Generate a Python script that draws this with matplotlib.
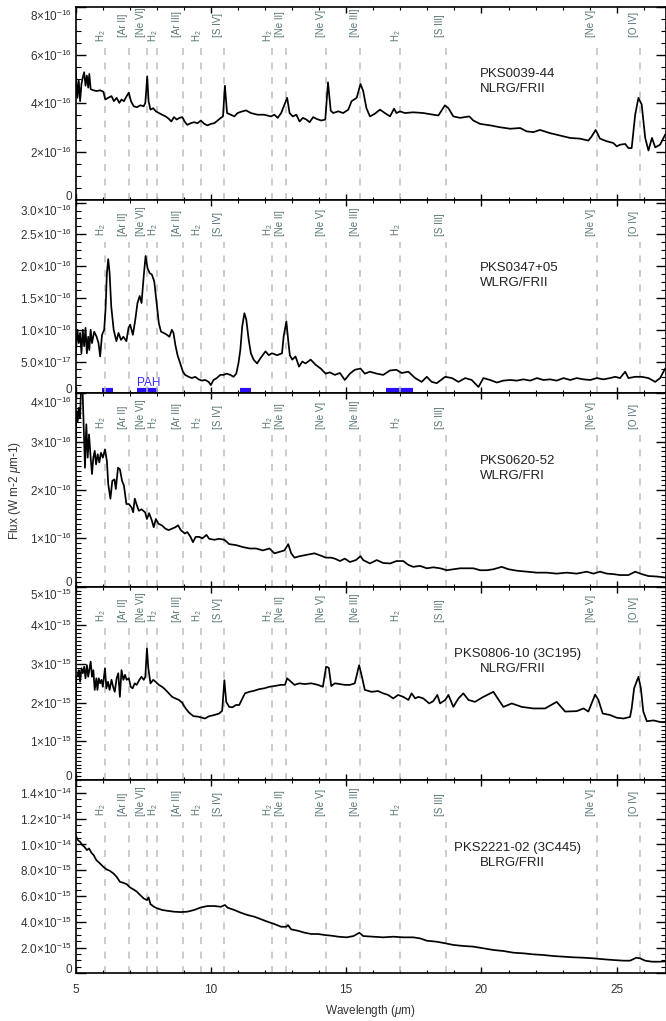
import numpy as np
import matplotlib
matplotlib.use('Agg')
import matplotlib.pyplot as plt
import matplotlib.transforms as mtransforms
from matplotlib.ticker import FixedLocator, MultipleLocator

plt.rcParams['font.family'] = ['Liberation Sans', 'DejaVu Sans']
plt.rcParams['mathtext.fontset'] = 'custom'
plt.rcParams['mathtext.rm'] = 'Liberation Sans'
plt.rcParams['mathtext.it'] = 'Liberation Sans:italic'
plt.rcParams['mathtext.bf'] = 'Liberation Sans:bold'

# spectra: (wavelength um, flux in units of the panel scale)
spec_0039 = [  # x1e-16
    (5.00, 5.50), (5.07, 4.23), (5.12, 4.94), (5.17, 4.09), (5.22, 4.80), (5.27, 5.08), (5.32, 5.29),
    (5.37, 4.73), (5.42, 5.15), (5.47, 4.65), (5.51, 5.22), (5.56, 4.59), (5.66, 4.54), (5.78, 4.51),
    (5.91, 4.54), (6.03, 4.48), (6.10, 4.16), (6.21, 4.23), (6.33, 4.30), (6.42, 4.09), (6.52, 4.23),
    (6.62, 4.02), (6.70, 4.16), (6.79, 4.09), (6.89, 4.30), (6.97, 4.44), (7.05, 4.09), (7.15, 3.88),
    (7.27, 3.84), (7.40, 3.92), (7.52, 3.88), (7.58, 4.02), (7.65, 5.12), (7.70, 4.09), (7.77, 3.74),
    (7.87, 3.80), (7.97, 3.67), (8.08, 3.60), (8.20, 3.53), (8.33, 3.46), (8.45, 3.36), (8.54, 3.25),
    (8.64, 3.43), (8.74, 3.33), (8.84, 3.40), (8.95, 3.43), (9.03, 3.25), (9.13, 3.11), (9.26, 3.18),
    (9.38, 3.22), (9.51, 3.18), (9.63, 3.29), (9.76, 3.15), (9.88, 3.09), (10.00, 3.15), (10.13, 3.18),
    (10.25, 3.29), (10.37, 3.40), (10.45, 3.46), (10.52, 4.73), (10.60, 3.60), (10.74, 3.53), (10.87, 3.46),
    (10.99, 3.60), (11.11, 3.65), (11.30, 3.71), (11.48, 3.60), (11.73, 3.53), (11.97, 3.53), (12.22, 3.46),
    (12.35, 3.53), (12.47, 3.40), (12.60, 3.60), (12.72, 3.95), (12.82, 4.23), (12.91, 3.60), (13.03, 3.46),
    (13.16, 3.53), (13.28, 3.25), (13.40, 3.40), (13.53, 3.33), (13.65, 3.22), (13.78, 3.43), (13.90, 3.36),
    (14.08, 3.29), (14.23, 3.33), (14.33, 4.87), (14.43, 3.70), (14.52, 3.60), (14.71, 3.67), (14.89, 3.60),
    (15.08, 3.74), (15.20, 4.09), (15.39, 4.23), (15.53, 4.80), (15.63, 4.51), (15.75, 3.80), (15.88, 3.46),
    (16.06, 3.57), (16.25, 3.74), (16.43, 3.60), (16.62, 3.46), (16.77, 3.78), (16.86, 3.60), (16.99, 3.67),
    (17.17, 3.60), (17.48, 3.63), (17.85, 3.60), (18.22, 3.53), (18.41, 3.50), (18.65, 3.92), (18.78, 3.80),
    (18.96, 3.46), (19.21, 3.40), (19.55, 3.46), (19.70, 3.29), (19.95, 3.15), (20.32, 3.09), (20.69, 3.01),
    (21.06, 2.95), (21.43, 2.98), (21.67, 2.84), (21.92, 2.81), (22.16, 2.90), (22.53, 2.77), (22.90, 2.67),
    (23.27, 2.57), (23.64, 2.54), (23.95, 2.46), (24.07, 2.63), (24.22, 2.90), (24.38, 2.54), (24.63, 2.43),
    (24.87, 2.36), (25.00, 2.22), (25.12, 2.29), (25.31, 2.32), (25.43, 2.15), (25.55, 2.15), (25.68, 3.53),
    (25.80, 4.23), (25.92, 3.95), (26.05, 2.57), (26.17, 2.05), (26.30, 2.57), (26.42, 2.18), (26.60, 2.29),
    (26.79, 2.71),
]

spec_0347 = [  # x1e-16
    (5.00, 0.58), (5.07, 1.00), (5.12, 0.79), (5.17, 0.95), (5.22, 0.63), (5.27, 1.00), (5.32, 0.74),
    (5.37, 1.03), (5.42, 0.63), (5.47, 0.89), (5.51, 0.68), (5.56, 1.00), (5.61, 0.79), (5.69, 0.97),
    (5.78, 0.89), (5.85, 0.79), (5.91, 0.58), (5.98, 0.92), (6.06, 1.00), (6.11, 1.32), (6.16, 1.89),
    (6.21, 2.11), (6.26, 1.89), (6.32, 1.37), (6.41, 1.00), (6.51, 0.82), (6.59, 0.95), (6.68, 0.84),
    (6.77, 0.89), (6.88, 0.82), (6.96, 1.03), (7.02, 1.08), (7.12, 0.92), (7.21, 1.16), (7.29, 1.42),
    (7.37, 1.53), (7.44, 1.42), (7.52, 1.84), (7.59, 2.16), (7.66, 1.97), (7.74, 1.89), (7.82, 1.87),
    (7.91, 1.76), (8.01, 1.37), (8.08, 1.10), (8.16, 0.97), (8.26, 0.95), (8.38, 0.92), (8.47, 0.89),
    (8.56, 1.00), (8.62, 0.95), (8.69, 0.76), (8.77, 0.60), (8.87, 0.47), (8.97, 0.34), (9.05, 0.29),
    (9.18, 0.26), (9.30, 0.24), (9.42, 0.26), (9.55, 0.22), (9.67, 0.20), (9.79, 0.21), (9.92, 0.18),
    (10.00, 0.13), (10.10, 0.21), (10.22, 0.24), (10.35, 0.29), (10.47, 0.29), (10.59, 0.31), (10.72, 0.29),
    (10.84, 0.26), (10.94, 0.31), (11.02, 0.47), (11.09, 0.68), (11.16, 1.05), (11.24, 1.26), (11.31, 1.16),
    (11.40, 0.84), (11.48, 0.63), (11.58, 0.53), (11.71, 0.47), (11.83, 0.55), (12.02, 0.66), (12.14, 0.60),
    (12.26, 0.63), (12.45, 0.60), (12.63, 0.63), (12.69, 0.89), (12.79, 1.13), (12.87, 0.79), (12.92, 0.60),
    (13.01, 0.53), (13.13, 0.58), (13.26, 0.42), (13.38, 0.50), (13.50, 0.47), (13.69, 0.53), (13.87, 0.45),
    (14.06, 0.39), (14.24, 0.31), (14.40, 0.33), (14.58, 0.29), (14.77, 0.32), (14.95, 0.21), (15.14, 0.31),
    (15.32, 0.37), (15.53, 0.39), (15.69, 0.31), (15.88, 0.34), (16.13, 0.31), (16.37, 0.29), (16.62, 0.36),
    (16.86, 0.37), (17.05, 0.32), (17.30, 0.34), (17.55, 0.24), (17.79, 0.18), (17.98, 0.26), (18.16, 0.18),
    (18.35, 0.16), (18.66, 0.26), (18.91, 0.24), (19.15, 0.18), (19.40, 0.24), (19.64, 0.21), (19.89, 0.10),
    (20.07, 0.24), (20.32, 0.21), (20.57, 0.17), (20.81, 0.20), (21.06, 0.21), (21.31, 0.20), (21.55, 0.22),
    (21.80, 0.20), (22.05, 0.24), (22.29, 0.21), (22.54, 0.22), (22.78, 0.20), (23.03, 0.24), (23.28, 0.21),
    (23.52, 0.24), (23.77, 0.22), (24.02, 0.21), (24.26, 0.24), (24.51, 0.22), (24.75, 0.24), (24.94, 0.26),
    (25.12, 0.24), (25.31, 0.34), (25.43, 0.24), (25.68, 0.26), (25.92, 0.26), (26.17, 0.24), (26.42, 0.18),
    (26.60, 0.24), (26.79, 0.39),
]

spec_0620 = [  # x1e-16
    (5.00, 2.94), (5.04, 3.63), (5.08, 3.42), (5.12, 3.70), (5.17, 3.49), (5.22, 4.40), (5.26, 4.10),
    (5.30, 3.36), (5.35, 2.46), (5.40, 3.36), (5.45, 2.67), (5.50, 3.15), (5.56, 2.67), (5.61, 2.33),
    (5.66, 2.67), (5.71, 2.81), (5.76, 2.53), (5.82, 2.74), (5.88, 2.57), (5.94, 2.77), (6.01, 2.67),
    (6.09, 2.84), (6.16, 2.60), (6.21, 2.12), (6.29, 1.82), (6.36, 2.19), (6.44, 2.22), (6.49, 2.02),
    (6.57, 2.46), (6.64, 2.43), (6.72, 2.19), (6.79, 2.09), (6.88, 1.71), (6.97, 1.71), (7.07, 1.64),
    (7.13, 1.54), (7.19, 1.82), (7.27, 1.68), (7.34, 1.57), (7.44, 1.60), (7.57, 1.54), (7.64, 1.40),
    (7.72, 1.52), (7.82, 1.37), (7.89, 1.23), (7.97, 1.40), (8.07, 1.30), (8.19, 1.27), (8.32, 1.20),
    (8.44, 1.17), (8.57, 1.20), (8.69, 1.23), (8.79, 1.27), (8.89, 1.17), (9.04, 1.10), (9.13, 1.13),
    (9.25, 1.03), (9.34, 0.92), (9.44, 1.03), (9.57, 1.03), (9.69, 1.00), (9.84, 1.07), (9.94, 0.99),
    (10.13, 0.97), (10.31, 0.99), (10.50, 0.97), (10.68, 0.88), (10.93, 0.86), (11.18, 0.82), (11.43, 0.79),
    (11.67, 0.79), (11.92, 0.75), (12.17, 0.79), (12.35, 0.69), (12.54, 0.72), (12.72, 0.75), (12.86, 0.88),
    (12.97, 0.69), (13.09, 0.60), (13.28, 0.63), (13.46, 0.65), (13.65, 0.67), (13.83, 0.69), (14.02, 0.65),
    (14.26, 0.60), (14.45, 0.60), (14.58, 0.58), (14.77, 0.53), (14.95, 0.58), (15.14, 0.51), (15.36, 0.55),
    (15.53, 0.63), (15.63, 0.55), (15.88, 0.48), (16.13, 0.55), (16.37, 0.49), (16.62, 0.48), (16.86, 0.53),
    (17.11, 0.53), (17.30, 0.45), (17.48, 0.41), (17.73, 0.43), (17.98, 0.38), (18.22, 0.40), (18.47, 0.38),
    (18.72, 0.34), (18.96, 0.36), (19.21, 0.38), (19.46, 0.38), (19.70, 0.38), (19.95, 0.34), (20.20, 0.34),
    (20.44, 0.36), (20.75, 0.41), (21.00, 0.36), (21.31, 0.33), (21.67, 0.31), (22.05, 0.29), (22.41, 0.29),
    (22.78, 0.27), (23.15, 0.29), (23.52, 0.27), (23.89, 0.31), (24.14, 0.27), (24.38, 0.31), (24.63, 0.27),
    (24.87, 0.26), (25.12, 0.24), (25.43, 0.24), (25.68, 0.31), (25.92, 0.26), (26.17, 0.22), (26.48, 0.21),
    (26.79, 0.19),
]

spec_0806 = [  # x1e-15
    (5.00, 1.72), (5.03, 2.67), (5.08, 2.70), (5.12, 2.84), (5.17, 2.54), (5.22, 2.89), (5.27, 2.76),
    (5.32, 2.93), (5.37, 2.63), (5.42, 2.97), (5.47, 2.67), (5.52, 2.89), (5.56, 3.06), (5.61, 2.67),
    (5.66, 2.84), (5.71, 2.33), (5.77, 2.63), (5.81, 2.33), (5.86, 2.63), (5.91, 2.50), (5.96, 2.59),
    (6.01, 2.41), (6.09, 2.89), (6.14, 2.37), (6.20, 2.54), (6.26, 2.33), (6.33, 2.59), (6.39, 2.41),
    (6.45, 2.28), (6.52, 2.63), (6.58, 2.76), (6.64, 2.15), (6.70, 2.84), (6.77, 2.59), (6.83, 2.72),
    (6.89, 2.59), (6.97, 2.63), (7.04, 2.41), (7.11, 2.37), (7.19, 2.50), (7.26, 2.46), (7.36, 2.59),
    (7.44, 2.67), (7.52, 2.59), (7.58, 2.67), (7.64, 3.40), (7.69, 2.89), (7.77, 2.50), (7.87, 2.59),
    (7.96, 2.54), (8.08, 2.46), (8.20, 2.41), (8.33, 2.33), (8.45, 2.24), (8.57, 2.15), (8.69, 2.11),
    (8.82, 2.07), (8.94, 2.00), (9.07, 1.85), (9.20, 1.74), (9.36, 1.65), (9.51, 1.64), (9.63, 1.62),
    (9.78, 1.59), (9.94, 1.65), (10.13, 1.68), (10.31, 1.72), (10.42, 1.79), (10.50, 2.58), (10.57, 2.02),
    (10.68, 1.89), (10.80, 1.88), (10.93, 1.94), (11.05, 1.94), (11.17, 2.11), (11.26, 2.24), (11.42, 2.28),
    (11.61, 2.31), (11.79, 2.35), (11.97, 2.37), (12.16, 2.41), (12.35, 2.43), (12.59, 2.46), (12.74, 2.46),
    (12.82, 2.63), (12.96, 2.54), (13.09, 2.46), (13.28, 2.50), (13.46, 2.48), (13.71, 2.50), (13.96, 2.46),
    (14.14, 2.41), (14.26, 2.93), (14.36, 2.90), (14.45, 2.43), (14.58, 2.50), (14.77, 2.48), (14.95, 2.46),
    (15.14, 2.46), (15.32, 2.50), (15.48, 2.97), (15.57, 2.71), (15.69, 2.33), (15.94, 2.28), (16.18, 2.30),
    (16.37, 2.24), (16.55, 2.20), (16.74, 2.11), (16.92, 2.20), (17.11, 2.15), (17.30, 2.07), (17.42, 2.24),
    (17.55, 2.11), (17.67, 2.15), (17.85, 2.11), (18.07, 1.98), (18.22, 2.04), (18.37, 2.20), (18.47, 1.98),
    (18.66, 2.07), (18.78, 2.20), (18.96, 1.89), (19.15, 2.11), (19.33, 2.24), (19.52, 2.07), (19.76, 2.02),
    (20.07, 2.15), (20.44, 2.28), (20.81, 1.89), (21.12, 1.98), (21.49, 1.89), (21.92, 1.85), (22.35, 1.85),
    (22.78, 2.02), (23.09, 1.77), (23.52, 1.78), (23.77, 1.85), (23.95, 1.77), (24.20, 2.21), (24.32, 2.07),
    (24.48, 1.72), (24.75, 1.68), (25.00, 1.61), (25.25, 1.59), (25.49, 1.63), (25.55, 1.85), (25.64, 2.37),
    (25.80, 2.67), (25.89, 2.37), (25.98, 1.77), (26.11, 1.52), (26.36, 1.54), (26.60, 1.50), (26.79, 1.50),
]

spec_2221 = [  # x1e-15
    (5.00, 10.72), (5.09, 10.33), (5.17, 10.20), (5.25, 9.95), (5.33, 9.81), (5.42, 9.56), (5.50, 9.69),
    (5.59, 9.35), (5.67, 9.17), (5.77, 8.78), (5.90, 8.53), (6.03, 8.26), (6.15, 8.06), (6.27, 7.95),
    (6.40, 7.75), (6.52, 7.49), (6.64, 7.10), (6.77, 7.02), (6.89, 6.92), (7.01, 6.67), (7.14, 6.51),
    (7.27, 6.33), (7.39, 6.07), (7.52, 5.81), (7.64, 5.68), (7.70, 5.89), (7.77, 5.37), (7.90, 5.16),
    (8.02, 5.04), (8.21, 4.91), (8.39, 4.85), (8.64, 4.78), (8.89, 4.75), (9.13, 4.78), (9.38, 4.91),
    (9.63, 5.11), (9.88, 5.22), (10.13, 5.22), (10.37, 5.16), (10.52, 5.30), (10.62, 5.09), (10.87, 4.91),
    (11.11, 4.70), (11.36, 4.52), (11.61, 4.39), (11.86, 4.19), (12.10, 4.00), (12.35, 3.82), (12.60, 3.61),
    (12.79, 3.61), (12.85, 3.74), (12.97, 3.41), (13.22, 3.30), (13.47, 3.15), (13.71, 3.05), (13.96, 3.05),
    (14.21, 2.97), (14.45, 2.92), (14.71, 2.84), (15.02, 2.79), (15.27, 2.89), (15.49, 3.15), (15.63, 2.89),
    (16.00, 2.84), (16.37, 2.79), (16.74, 2.84), (17.11, 2.79), (17.48, 2.79), (17.73, 2.71), (17.98, 2.53),
    (18.35, 2.45), (18.66, 2.33), (18.96, 2.20), (19.33, 2.12), (19.70, 2.07), (20.07, 1.94), (20.44, 1.81),
    (20.81, 1.73), (21.18, 1.60), (21.55, 1.55), (21.92, 1.47), (22.29, 1.42), (22.66, 1.34), (23.03, 1.29),
    (23.40, 1.24), (23.77, 1.21), (24.14, 1.16), (24.51, 1.09), (24.87, 1.03), (25.25, 0.98), (25.49, 0.98),
    (25.72, 1.21), (25.86, 1.16), (26.05, 0.98), (26.30, 0.90), (26.60, 0.90), (26.79, 0.93),
]

spectra = [spec_0039, spec_0347, spec_0620, spec_0806, spec_2221]
scales = [1e-16, 1e-16, 1e-16, 1e-15, 1e-15]
names = ['PKS0039-44', 'PKS0347+05', 'PKS0620-52', 'PKS0806-10 (3C195)', 'PKS2221-02 (3C445)']
classes = ['NLRG/FRII', 'WLRG/FRII', 'WLRG/FRI', 'NLRG/FRII', 'BLRG/FRII']
name_x = [19.94, 19.94, 19.94, 18.98, 18.98]

ylims = [(0, 8e-16), (0, 3.04e-16), (0, 4e-16), (0, 5e-15), (0, 1.5e-14)]
ytick_vals = [
    [0, 2e-16, 4e-16, 6e-16, 8e-16],
    [0, 0.5e-16, 1.0e-16, 1.5e-16, 2.0e-16, 2.5e-16, 3.0e-16],
    [0, 1e-16, 2e-16, 3e-16, 4e-16],
    [0, 1e-15, 2e-15, 3e-15, 4e-15, 5e-15],
    [0, 2e-15, 4e-15, 6e-15, 8e-15, 1.0e-14, 1.2e-14, 1.4e-14],
]
ytick_labels = [
    ['0', r'$2{\times}10^{-16}$', r'$4{\times}10^{-16}$', r'$6{\times}10^{-16}$', r'$8{\times}10^{-16}$'],
    ['0', r'$5.0{\times}10^{-17}$', r'$1.0{\times}10^{-16}$', r'$1.5{\times}10^{-16}$',
     r'$2.0{\times}10^{-16}$', r'$2.5{\times}10^{-16}$', r'$3.0{\times}10^{-16}$'],
    ['0', r'$1{\times}10^{-16}$', r'$2{\times}10^{-16}$', r'$3{\times}10^{-16}$', r'$4{\times}10^{-16}$'],
    ['0', r'$1{\times}10^{-15}$', r'$2{\times}10^{-15}$', r'$3{\times}10^{-15}$', r'$4{\times}10^{-15}$',
     r'$5{\times}10^{-15}$'],
    ['0', r'$2.0{\times}10^{-15}$', r'$4.0{\times}10^{-15}$', r'$6.0{\times}10^{-15}$', r'$8.0{\times}10^{-15}$',
     r'$1.0{\times}10^{-14}$', r'$1.2{\times}10^{-14}$', r'$1.4{\times}10^{-14}$'],
]
yminor = [0.5e-16, 0.125e-16, 0.1e-16, 0.1e-15, 0.5e-15]
# the top label is pushed down into the panel when its tick sits on the top edge
top_label_shift = [6, 5, 6, 5, 0]

# emission line markers
line_wl = [6.10, 6.98, 7.64, 8.01, 8.97, 9.65, 10.49, 12.27, 12.79, 14.27, 15.53, 17.00, 18.69, 24.26, 25.86]
line_lab = ['H$_2$', '[Ar II]', '[Ne VI]', 'H$_2$', '[Ar III]', 'H$_2$', '[S IV]', 'H$_2$', '[Ne II]',
            '[Ne V]', '[Ne III]', 'H$_2$', '[S III]', '[Ne V]', '[O IV]']

# PAH features marked in PKS0347+05
pah_ranges = [(5.99, 6.40), (7.28, 8.06), (11.08, 11.48), (16.47, 17.46)]

W, H = 666, 1021
fig, axes = plt.subplots(5, 1, sharex=True, figsize=(W / 100, H / 100), dpi=100)
fig.subplots_adjust(left=75.5 / W, right=665.5 / W, top=1 - 6.7 / H, bottom=1 - 973.3 / H, hspace=0)

lab_color = '#587474'
for i, ax in enumerate(axes):
    wl, fx = np.array(spectra[i]).T
    ax.plot(wl, fx * scales[i], color='black', lw=1.25, zorder=4)
    ax.set_xlim(5, 26.8)
    ax.set_ylim(*ylims[i])

    trans = mtransforms.blended_transform_factory(ax.transData, ax.transAxes)
    # bracketed labels end just left of their line; the H2 subscript pokes past it
    trans_br = trans + mtransforms.ScaledTranslation(-0.6 / 72, 0, fig.dpi_scale_trans)
    trans_h2 = trans + mtransforms.ScaledTranslation(2.2 / 72, 0, fig.dpi_scale_trans)
    for x, lab in zip(line_wl, line_lab):
        is_h2 = lab.startswith('H')
        ybot = 0.815
        if i == 0 and not is_h2:
            ybot = 0.845
        ax.plot([x, x], [0, ybot - 0.03], transform=trans, color='#bdbdbd', lw=1.1,
                dashes=(4.5, 5), zorder=2)
        ax.text(x, ybot, lab, transform=trans_h2 if is_h2 else trans_br, rotation=90,
                ha='right', va='bottom', fontsize=7.0, color=lab_color)

    ax.text(name_x[i], 0.65, names[i], transform=trans, fontsize=9.5, color='#222222', va='center')
    ax.text(19.95, 0.572, classes[i], transform=trans, fontsize=9.5, color='#222222', va='center')

    ax.yaxis.set_major_locator(FixedLocator(ytick_vals[i]))
    ax.set_yticklabels(ytick_labels[i])
    ax.yaxis.set_minor_locator(MultipleLocator(yminor[i]))
    ax.xaxis.set_major_locator(MultipleLocator(5))
    ax.xaxis.set_minor_locator(MultipleLocator(1))
    ax.tick_params(axis='both', which='both', direction='in', top=True, right=True,
                   labelsize=8.5, labelcolor='#333333', width=1.0)
    ax.tick_params(axis='y', which='major', length=7, pad=2.5)
    ax.tick_params(axis='y', which='minor', length=3.5, width=0.8)
    ax.tick_params(axis='x', which='major', length=4.5, pad=8)
    ax.tick_params(axis='x', which='minor', length=2.2, width=0.8)
    for sp in ax.spines.values():
        sp.set_linewidth(1.2)

    # nudge the edge labels into their own panel, as in the original
    tl = ax.get_yticklabels()
    tl[0].set_transform(tl[0].get_transform() +
                        mtransforms.ScaledTranslation(0, 3.5 / 72, fig.dpi_scale_trans))
    if top_label_shift[i]:
        tl[-1].set_transform(tl[-1].get_transform() +
                             mtransforms.ScaledTranslation(0, -top_label_shift[i] / 72, fig.dpi_scale_trans))

# PAH bars and label on the second panel
ax2 = axes[1]
for a, b in pah_ranges:
    ax2.plot([a, b], [0.045e-16, 0.045e-16], color='#2a10ff', lw=3, solid_capstyle='butt', zorder=1)
ax2.text(7.27, 0.17e-16, 'PAH', color='#3a2aff', fontsize=8.5, va='center', ha='left')

axes[-1].set_xlabel(r'Wavelength ($\mu$m)', fontsize=8.5, color='#333333', labelpad=5)
fig.text(15 / W, 1 - 490 / H, r'Flux (W m-2 $\mu$m-1)', rotation=90, ha='center', va='center',
         fontsize=8.5, color='#333333')

fig.savefig('out.png', dpi=100)
